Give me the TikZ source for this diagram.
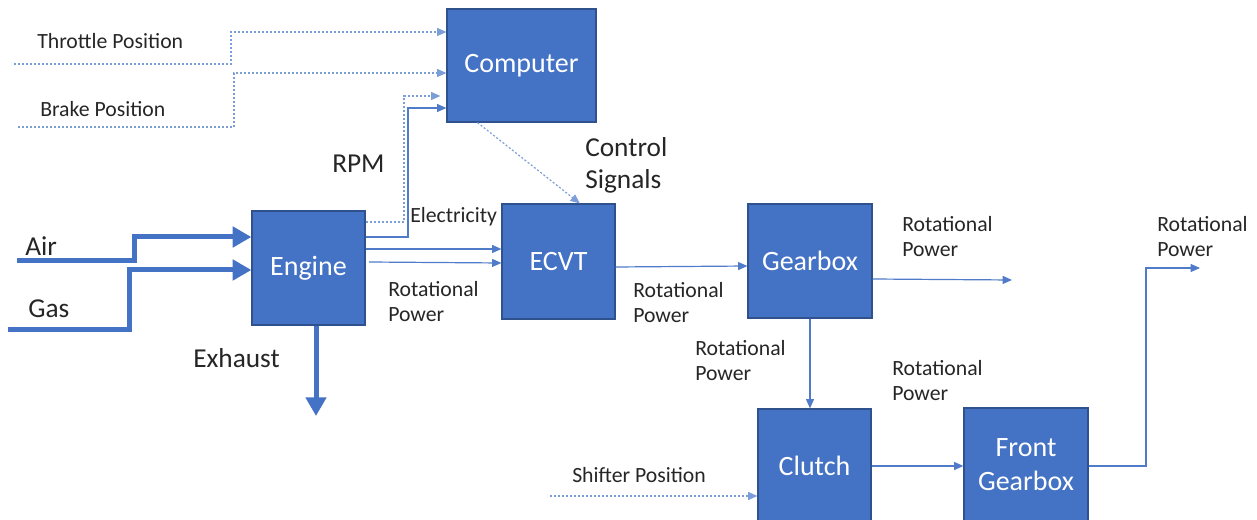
\documentclass[tikz,border=0pt]{standalone}
\usepackage{fontspec}
\setmainfont{Carlito}
\usetikzlibrary{arrows.meta}
\definecolor{boxfill}{HTML}{4472C4}
\definecolor{boxline}{HTML}{2F528F}
\definecolor{wire}{HTML}{4F7BC8}
\definecolor{sig}{HTML}{7B9DD8}
\definecolor{txt}{HTML}{262626}

\begin{document}
\begin{tikzpicture}[x=0.75pt,y=-0.75pt,
  block/.style={draw=boxline, line width=0.9pt, fill=boxfill, text=white,
    font=\fontsize{21}{25.5}\selectfont, align=center, inner sep=0pt},
  flow/.style={draw=wire, line width=0.9pt, -{Triangle[length=7pt,width=6pt]}},
  signal/.style={draw=sig, line width=0.9pt, dash pattern=on 1.5pt off 1.5pt,
    -{Triangle[length=7pt,width=6pt]}},
  feed/.style={draw=boxfill, line width=3.75pt, -{Triangle[length=14pt,width=15pt]}},
  lbl/.style={text=txt, font=\fontsize{16.3}{18.75}\selectfont, inner sep=0pt,
    anchor=base west, align=left},
  biglbl/.style={text=txt, font=\fontsize{20.5}{24}\selectfont, inner sep=0pt,
    anchor=base west, align=left}]

\clip (0,0) rectangle (1257,520);

% blocks
\node[block, minimum width=111.75pt, minimum height=84.75pt] (computer) at (521.5,65.5) {Computer};
\node[block, minimum width=84.75pt, minimum height=85.5pt] (engine) at (308.5,268) {Engine};
\node[block, minimum width=84.75pt, minimum height=86.25pt] (ecvt) at (558.5,261.5) {ECVT};
\node[block, minimum width=93pt, minimum height=85.5pt] (gearbox) at (810,261) {Gearbox};
\node[block, minimum width=84.75pt, minimum height=84.75pt] (clutch) at (814.5,465.5) {Clutch};
\node[block, minimum width=93pt, minimum height=85.5pt] (front) at (1026,465) {Front\\Gearbox};

% free ends
\coordinate (air) at (17,261);
\coordinate (gas) at (8,330);
\coordinate (throttle) at (14,64);
\coordinate (brake) at (18,127);
\coordinate (exhaust) at (316,416);
\coordinate (shifter) at (550,496);
\coordinate (gbout) at (1012,280);
\coordinate (fgout) at (1200,268);

% engine feeds
\draw[feed] (air) -- (134,261) -- (134,237) -- (engine.west |- 0,237);
\draw[feed] (gas) -- (129,330) -- (129,270) -- (engine.west |- 0,270);
\draw[feed] (engine.south -| exhaust) -- (exhaust);

% driver inputs to the computer
\draw[signal] (throttle) -- (231,64) -- (231,32) -- (computer.west |- 0,32);
\draw[signal] (brake) -- (234,127) -- (234,73) -- (computer.west |- 0,73);

% RPM feedback
\draw[signal] (engine.east |- 0,222) -- (404,222) -- (404,96) -- ([xshift=-4.5pt]computer.west |- 0,96);
\draw[flow] (engine.east |- 0,237) -- (408,237) -- (408,108) -- (computer.west |- 0,108);

% control signals
\draw[signal] ([xshift=-33pt]computer.south) -- ([xshift=16pt]ecvt.north);

% power path
\draw[flow] (engine.east |- 0,249) -- (ecvt.west |- 0,249);
\draw[flow] (369,262) -- (ecvt.west |- 0,263);
\draw[flow] (ecvt.east |- 0,267) -- (gearbox.west |- 0,266);
\draw[flow] (gearbox.east |- 0,279) -- (gbout);
\draw[flow] (gearbox.south) -- (clutch.north -| gearbox.south);
\draw[flow] (clutch.east |- 0,466) -- (front.west |- 0,466);
\draw[flow] (front.east |- 0,466) -- (1146,466) -- (1146,268) -- (fgout);
\draw[signal] (shifter) -- (clutch.west |- shifter);

% labels (two-line labels are placed by the baseline of their last line)
\node[lbl] (lthrottle) at (37,49) {Throttle Position};
\node[lbl] (lbrake) at (40,117) {Brake Position};
\node[biglbl] (lrpm) at (332,173) {RPM};
\node[biglbl] (lctrl) at (585,189) {Control\\Signals};
\node[lbl] (lelec) at (410,223) {Electricity};
\node[biglbl] (lair) at (25,256) {Air};
\node[biglbl] (lgas) at (28,318) {Gas};
\node[biglbl] (lexh) at (193,368) {Exhaust};
\node[lbl] (lrp1) at (388,322) {Rotational\\Power};
\node[lbl] (lrp2) at (633,323) {Rotational\\Power};
\node[lbl] (lrp3) at (902,257) {Rotational\\Power};
\node[lbl] (lrp4) at (695,381) {Rotational\\Power};
\node[lbl] (lrp5) at (892,401) {Rotational\\Power};
\node[lbl] (lrp6) at (1157,257) {Rotational\\Power};
\node[lbl] (lshift) at (572,482) {Shifter Position};
\end{tikzpicture}
\end{document}
